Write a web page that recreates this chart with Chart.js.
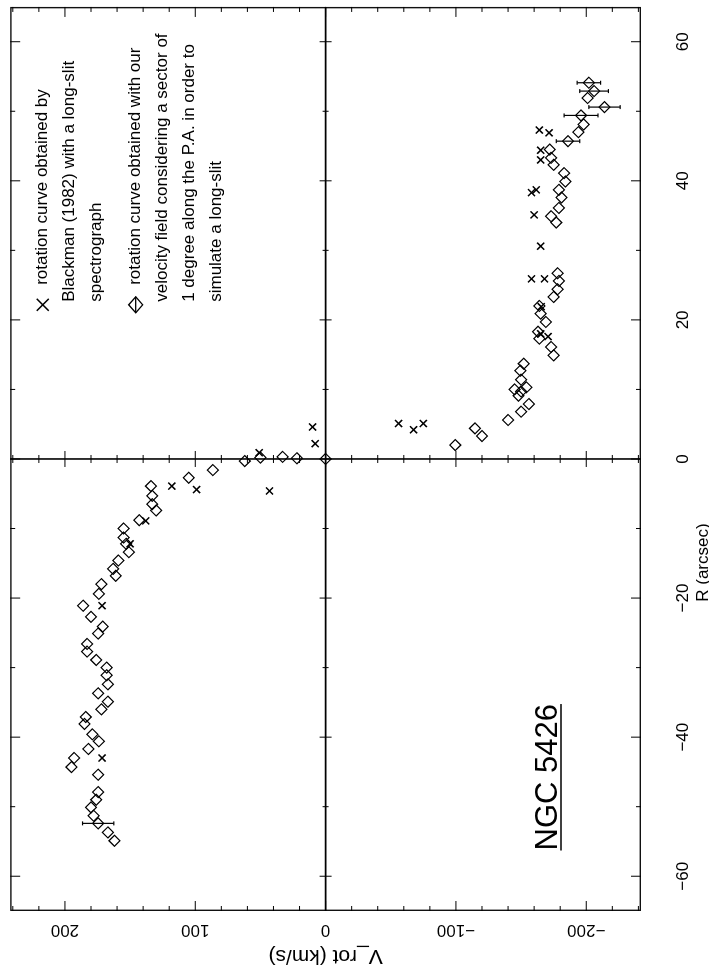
<!DOCTYPE html>
<html><head><meta charset="utf-8">
<script src="https://cdn.jsdelivr.net/npm/chart.js@4/dist/chart.umd.min.js"></script>
<style>
html,body{margin:0;padding:0;background:#fff;overflow:hidden;width:709px;height:974px;}
#wrap{position:absolute;left:0;top:0;width:974px;height:709px;transform-origin:0 0;transform:translate(0px,974px) rotate(-90deg);background:#fff;}
</style></head><body>
<div id="wrap"><canvas id="c" width="974" height="709"></canvas></div>
<script>
// ---- axis ticks ----
const radiusTicks = [-60, -40, -20, 0, 20, 40, 60];
const velocityTicks = [-200, -100, 0, 100, 200];

// ---- Blackman (1982) long-slit rotation curve (X marks): R (arcsec), V_rot (km/s) ----
const blackmanR = [0.9, -3.9, -4.4, -4.6, -8.9, -12.2, -21.1, -43.0, 2.2, 4.6, 4.2, 5.1, 5.1, 17.6, 18.0, 21.9, 25.9, 25.9, 30.6, 35.1, 38.3, 38.7, 43.0, 44.4, 46.9, 47.3];
const blackmanV = [51, 118, 99, 43, 138, 150, 171.5, 171.5, 8, 10, -67.5, -56, -75, -170.7, -165, -165.4, -158, -168, -165, -160, -158, -161.6, -165, -165, -171.5, -164];

// ---- velocity-field rotation curve (diamonds) ----
const fieldR = [0, -0.3, 0.2, 0.3, 0.1, -1.6, -2.7, -3.9, -5.3, -6.5, -7.4, -8.8, -10.0, -11.3, -12.2, -13.4, -14.6, -15.8, -16.8, -18.0, -19.4, -21.1, -22.7, -24.1, -25.1, -26.6, -27.7, -28.9, -30.0, -31.1, -32.4, -33.7, -34.9, -36.0, -37.1, -38.1, -39.6, -40.6, -41.7, -43.0, -44.3, -45.4, -47.9, -49.0, -50.1, -51.3, -52.4, -53.7, -54.9,
  2.0, 3.3, 4.4, 5.6, 6.8, 7.9, 9.1, 9.7, 10.0, 10.3, 11.4, 12.7, 13.7, 14.9, 16.1, 17.3, 18.3, 19.7, 20.9, 22.0, 23.3, 24.4, 25.6, 26.7, 34.0, 34.9, 36.1, 37.6, 38.7, 39.9, 41.1, 42.3, 43.3, 44.5, 45.7, 47.0, 48.1, 49.4, 50.6, 51.9, 52.9, 54.1];
const fieldV = [0, 62, 50, 33, 22, 86.5, 105, 134, 133, 133, 130, 143, 155, 155, 153, 151, 159, 163, 161, 172, 174, 186, 180, 171, 174.5, 183, 183, 176, 168, 168, 167, 174.5, 167, 172, 184, 185, 179, 174, 182, 193, 195, 174.5, 174.5, 176, 180, 178, 174.5, 167, 162,
  -99.5, -120, -114.6, -140, -150, -156, -148, -150, -145, -154, -150, -149.5, -152, -175, -173, -164, -163, -169, -165, -164, -175, -178, -179, -178, -177, -173, -179, -181, -179, -184, -183, -175, -173, -172, -186, -194, -198, -196, -214, -201, -206, -202];

// ---- error bars on some velocity-field points ----
const errR = [-52.4, 45.7, 49.4, 50.6, 52.9, 54.1];
const errV = [174.5, -186, -196, -214, -206, -202];
const errSize = [12, 9, 13, 12, 11, 9];

// ---- texts ----
const legendX = ['rotation curve obtained by', 'Blackman (1982) with a long-slit', 'spectrograph'];
const legendD = ['rotation curve obtained with our', 'velocity field considering a sector of', '1 degree along the P.A. in order to', 'simulate a long-slit'];
const galaxyName = 'NGC 5426';
const xTitle = 'R (arcsec)';
const yTitle = 'V_rot (km/s)';

const FONT = '"Liberation Sans", Arial, Helvetica, sans-serif';
const fmt = v => String(v).replace('-', '\u2212');

function seg(ctx, x1, y1, x2, y2) { ctx.beginPath(); ctx.moveTo(x1, y1); ctx.lineTo(x2, y2); ctx.stroke(); }

const decor = {
  id: 'decor',
  beforeDatasetsDraw(chart) {
    const { ctx, chartArea: a, scales: { x, y } } = chart;
    ctx.save();
    ctx.strokeStyle = '#111';
    ctx.lineWidth = 1.4;
    ctx.strokeRect(a.left + 0.7, a.top + 0.7, a.right - a.left - 1.4, a.bottom - a.top - 1.4);
    const x0 = x.getPixelForValue(0), y0 = y.getPixelForValue(0);
    ctx.strokeStyle = '#000';
    ctx.lineWidth = 1.6;
    seg(ctx, x0, a.top, x0, a.bottom);
    seg(ctx, a.left, y0, a.right, y0);
    ctx.lineWidth = 1;
    for (let r = -60; r <= 60; r += 10) {
      const p = x.getPixelForValue(r);
      const L = (r % 20 === 0) ? 10 : 5;
      seg(ctx, p, a.bottom, p, a.bottom - L);
      seg(ctx, p, a.top, p, a.top + L);
      seg(ctx, p, y0 - L * 0.6, p, y0 + L * 0.6);
    }
    for (let v = -240; v <= 240; v += 20) {
      const p = y.getPixelForValue(v);
      const L = (v % 100 === 0) ? 10 : 5;
      seg(ctx, a.left, p, a.left + L, p);
      seg(ctx, a.right, p, a.right - L, p);
      seg(ctx, x0 - L * 0.8, p, x0 + L * 0.8, p);
    }
    // error bars
    ctx.lineWidth = 1.2;
    for (let i = 0; i < errR.length; i++) {
      const px = x.getPixelForValue(errR[i]);
      const p1 = y.getPixelForValue(errV[i] - errSize[i]);
      const p2 = y.getPixelForValue(errV[i] + errSize[i]);
      seg(ctx, px, p1, px, p2);
      seg(ctx, px - 2, p1, px + 2, p1);
      seg(ctx, px - 2, p2, px + 2, p2);
    }
    ctx.restore();
  },
  afterDraw(chart) {
    const { ctx, chartArea: a, scales: { x, y } } = chart;
    ctx.save();
    ctx.fillStyle = '#000';
    ctx.strokeStyle = '#000';
    // legend (placed in the empty R>0, V>0 quadrant)
    const lx = x.getPixelForValue(22.6), ly = y.getPixelForValue(217);
    const step = 26.8, gap = 12.5;
    ctx.font = '17px ' + FONT;
    ctx.textBaseline = 'middle';
    ctx.textAlign = 'left';
    // X symbol
    ctx.lineWidth = 1.6;
    const sx = lx - 3;
    seg(ctx, sx - 6, ly - 6, sx + 6, ly + 6);
    seg(ctx, sx - 6, ly + 6, sx + 6, ly - 6);
    legendX.forEach((t, i) => ctx.fillText(t, i === 0 ? lx + 17 : lx, ly + i * step));
    // diamond symbol
    const dy = ly + 3 * step + gap;
    ctx.lineWidth = 1.3;
    ctx.beginPath();
    ctx.moveTo(sx - 8, dy); ctx.lineTo(sx, dy - 7); ctx.lineTo(sx + 8, dy); ctx.lineTo(sx, dy + 7); ctx.closePath();
    ctx.stroke();
    seg(ctx, sx - 8, dy, sx + 8, dy);
    legendD.forEach((t, i) => ctx.fillText(t, i === 0 ? lx + 17 : lx, dy + i * step));
    // galaxy name, underlined
    ctx.font = '31px ' + FONT;
    ctx.textBaseline = 'alphabetic';
    const gx = x.getPixelForValue(-56.3), gy = y.getPixelForValue(-177.5);
    ctx.fillText(galaxyName, gx, gy);
    const w = ctx.measureText(galaxyName).width;
    ctx.lineWidth = 1.5;
    seg(ctx, gx, gy + 4, gx + w, gy + 4);
    // x axis title
    ctx.font = '17px ' + FONT;
    ctx.textAlign = 'center';
    ctx.textBaseline = 'middle';
    ctx.fillText(xTitle, x.getPixelForValue(-14.9), a.bottom + 62);
    ctx.restore();
  }
};

new Chart(document.getElementById('c'), {
  type: 'scatter',
  data: {
    datasets: [
      {
        label: 'Blackman (1982) long-slit',
        data: blackmanR.map((r, i) => ({ x: r, y: blackmanV[i] })),
        pointStyle: 'crossRot', radius: 5, borderWidth: 1.5,
        borderColor: '#000', backgroundColor: '#000'
      },
      {
        label: 'velocity field sector',
        data: fieldR.map((r, i) => ({ x: r, y: fieldV[i] })),
        pointStyle: 'rectRot', radius: 5.5, borderWidth: 1.2,
        borderColor: '#000', backgroundColor: 'rgba(0,0,0,0)'
      }
    ]
  },
  options: {
    responsive: false,
    animation: false,
    events: [],
    layout: { padding: { top: 3, right: 1, left: 0, bottom: 0 } },
    plugins: { legend: { display: false }, tooltip: { enabled: false } },
    scales: {
      x: {
        type: 'linear', position: 'bottom', min: -65, max: 65,
        grid: { display: false, drawTicks: false }, border: { display: false },
        afterBuildTicks: s => { s.ticks = radiusTicks.map(v => ({ value: v })); },
        afterFit: s => { s.height = 68; },
        ticks: { color: '#000', font: { family: FONT, size: 17 }, padding: 32, maxRotation: 0, minRotation: 0, callback: v => fmt(v) },
        title: { display: false }
      },
      y: {
        type: 'linear', position: 'left', min: -242, max: 242,
        grid: { display: false, drawTicks: false }, border: { display: false },
        afterBuildTicks: s => { s.ticks = velocityTicks.map(v => ({ value: v })); },
        afterFit: s => { s.width = 63; },
        ticks: { color: '#000', font: { family: FONT, size: 17 }, padding: 0, minRotation: 90, maxRotation: 90, crossAlign: 'center', callback: v => fmt(v) },
        title: { display: true, text: yTitle, color: '#000', font: { family: FONT, size: 21 }, padding: { top: 6, bottom: 0 } }
      }
    }
  },
  plugins: [decor]
});
</script>
</body></html>
